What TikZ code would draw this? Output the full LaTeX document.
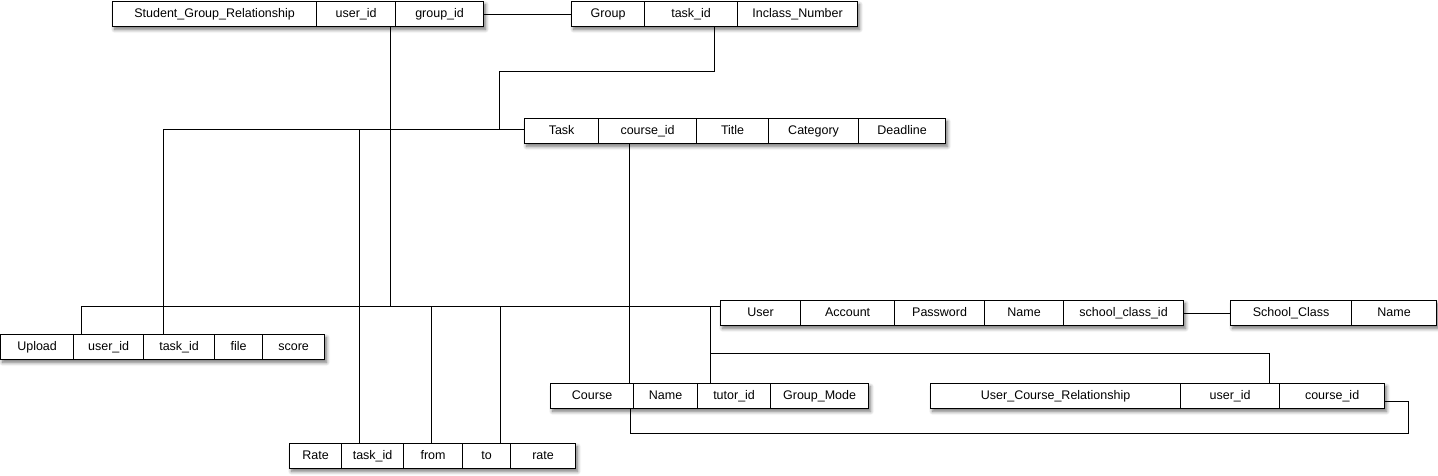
\documentclass[tikz,border=0pt]{standalone}
\usepackage{fontspec}
\setmainfont{Liberation Sans}
\usetikzlibrary{shadows.blur}
\begin{document}
\begin{tikzpicture}[x=1pt,y=-1pt,
  cell/.style={draw, fill=white, line width=1.2pt, minimum height=25pt, inner sep=0pt,
    text height=9pt, text depth=2.6pt,
    anchor=north west, font=\fontsize{12.5}{15}\selectfont},
  tshadow/.style={blur shadow={shadow xshift=2.5pt, shadow yshift=-3.5pt, shadow blur radius=3.5pt, shadow blur steps=8, shadow opacity=55}},
  conn/.style={draw, line width=1pt}]
\useasboundingbox (0,0) rectangle (1438,475);
% shadows
\path[tshadow] (112,1) rectangle (483,26);
\path[tshadow] (571,1) rectangle (857,26);
\path[tshadow] (524,118) rectangle (945,143);
\path[tshadow] (720,300) rectangle (1183,325);
\path[tshadow] (1230,300) rectangle (1436,325);
\path[tshadow] (0,334) rectangle (324,359);
\path[tshadow] (550,383) rectangle (868,408);
\path[tshadow] (930,383) rectangle (1384,408);
\path[tshadow] (289,443) rectangle (575,468);
% Student_Group_Relationship
\node[cell, minimum width=204pt] (sg0) at (112,1) {Student\_Group\_Relationship};
\node[cell, minimum width=79pt] (sg1) at (316,1) {user\_id};
\node[cell, minimum width=88pt] (sg2) at (395,1) {group\_id};
% Group
\node[cell, minimum width=73pt] (g0) at (571,1) {Group};
\node[cell, minimum width=93pt] (g1) at (644,1) {task\_id};
\node[cell, minimum width=120pt] (g2) at (737,1) {Inclass\_Number};
% Task
\node[cell, minimum width=74pt] (t0) at (524,118) {Task};
\node[cell, minimum width=98pt] (t1) at (598,118) {course\_id};
\node[cell, minimum width=72pt] (t2) at (696,118) {Title};
\node[cell, minimum width=90pt] (t3) at (768,118) {Category};
\node[cell, minimum width=87pt] (t4) at (858,118) {Deadline};
% User
\node[cell, minimum width=80pt] (u0) at (720,300) {User};
\node[cell, minimum width=94pt] (u1) at (800,300) {Account};
\node[cell, minimum width=90pt] (u2) at (894,300) {Password};
\node[cell, minimum width=79pt] (u3) at (984,300) {Name};
\node[cell, minimum width=120pt] (u4) at (1063,300) {school\_class\_id};
% School_Class
\node[cell, minimum width=121pt] (s0) at (1230,300) {School\_Class};
\node[cell, minimum width=85pt] (s1) at (1351,300) {Name};
% Upload
\node[cell, minimum width=73pt] (up0) at (0,334) {Upload};
\node[cell, minimum width=70pt] (up1) at (73,334) {user\_id};
\node[cell, minimum width=71pt] (up2) at (143,334) {task\_id};
\node[cell, minimum width=48pt] (up3) at (214,334) {file};
\node[cell, minimum width=62pt] (up4) at (262,334) {score};
% Course
\node[cell, minimum width=83pt] (c0) at (550,383) {Course};
\node[cell, minimum width=64pt] (c1) at (633,383) {Name};
\node[cell, minimum width=73pt] (c2) at (697,383) {tutor\_id};
\node[cell, minimum width=98pt] (c3) at (770,383) {Group\_Mode};
% User_Course_Relationship
\node[cell, minimum width=250pt] (r0) at (930,383) {User\_Course\_Relationship};
\node[cell, minimum width=99pt] (r1) at (1180,383) {user\_id};
\node[cell, minimum width=105pt] (r2) at (1279,383) {course\_id};
% Rate
\node[cell, minimum width=52pt] (ra0) at (289,443) {Rate};
\node[cell, minimum width=62pt] (ra1) at (341,443) {task\_id};
\node[cell, minimum width=59pt] (ra2) at (403,443) {from};
\node[cell, minimum width=48pt] (ra3) at (462,443) {to};
\node[cell, minimum width=65pt] (ra4) at (510,443) {rate};
% junction coordinates
\coordinate (gx) at (714,71);
\coordinate (j1) at (499,129);
\coordinate (k1) at (163,129);
\coordinate (k2) at (359,129);
\coordinate (h0) at (81,306);
\coordinate (h1) at (390,306);
\coordinate (h3) at (431,306);
\coordinate (h4) at (500,306);
\coordinate (h2) at (710,306);
\coordinate (m1) at (710,353);
\coordinate (m2) at (1269,353);
\coordinate (cx) at (629,200);
\coordinate (n1) at (630,433);
\coordinate (n2) at (1408,401);
% connectors
\draw[conn] (sg2.east) -- (g0.west);
\draw[conn] (g1.south -| gx) -- (gx) -| (j1);
\draw[conn] (t0.west |- j1) -- (k1) -- (k1 |- up2.north);
\draw[conn] (k2) -- (k2 |- ra1.north);
\draw[conn] (sg1.south -| h1) -- (h1);
\draw[conn] (up1.north -| h0) -- (h0) -- (h0 -| u0.west);
\draw[conn] (h3) -- (h3 |- ra2.north);
\draw[conn] (h4) -- (h4 |- ra3.north);
\draw[conn] (h2) -- (h2 |- c2.north);
\draw[conn] (m1) -- (m2) -- (m2 |- r1.north);
\draw[conn] (t1.south -| cx) -- (cx |- c0.north);
\draw[conn] (c0.south -| n1) -- (n1) -| (n2) -- (n2 -| r2.east);
\draw[conn] (u4.east) -- (s0.west);
\end{tikzpicture}
\end{document}
